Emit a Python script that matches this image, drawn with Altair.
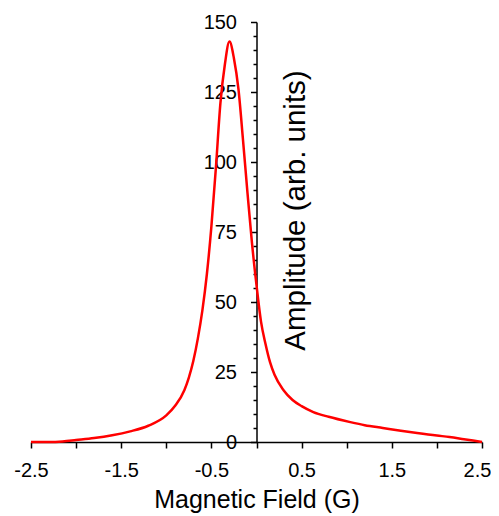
import altair as alt
import pandas as pd

field = [-2.5, -2.3, -2.15, -2.0, -1.8, -1.6, -1.4, -1.2, -1.0, -0.9, -0.8, -0.75,
         -0.7, -0.65, -0.6, -0.55, -0.5, -0.45, -0.4, -0.35, -0.3, -0.25, -0.2,
         -0.15, -0.1, -0.05, 0.0, 0.05, 0.1, 0.15, 0.2, 0.3, 0.4, 0.5, 0.63, 0.8,
         1.04, 1.2, 1.4, 1.6, 1.78, 2.0, 2.14, 2.3, 2.5]
amplitude = [0, 0, 0.2, 0.7, 1.4, 2.4, 3.8, 5.8, 9.5, 13, 18.5, 23,
             29, 37, 47, 60, 77, 98, 121, 135, 143, 137, 126,
             108, 89, 71, 56, 43, 35, 28.5, 24, 18.5, 15, 12.8, 10.7, 9,
             7.1, 6.0, 5, 4, 3.2, 2.3, 1.8, 1.0, 0]

x_ticks = [-2.5, -2.0, -1.5, -1.0, -0.5, 0.0, 0.5, 1.0, 1.5, 2.0, 2.5]
y_ticks = list(range(0, 151, 5))

df = pd.DataFrame({"field": field, "amp": amplitude})

FONT = "Liberation Sans"

x_axis = alt.Axis(
    values=x_ticks,
    labelExpr="abs(round(datum.value*2)) % 2 == 1 ? (datum.value < 0 ? '-' : '') + format(abs(datum.value), '.1f') : ''",
    labelOffset=alt.condition("datum.value > 2.4", alt.value(-5), alt.value(0)),
    tickSize=6, tickWidth=1.5, tickColor="black",
    domainColor="black", domainWidth=1.5,
    labelFont=FONT, labelFontSize=20, labelColor="black", labelPadding=12,
    labelFlush=False, labelOverlap=False,
    grid=False,
    title="Magnetic Field (G)", titleFont=FONT, titleFontSize=25,
    titleFontWeight="normal", titleColor="black",
    titleY=65, titleBaseline="alphabetic",
)

y_axis = alt.Axis(
    values=y_ticks,
    labelExpr="datum.value % 25 === 0 ? datum.label : ''",
    tickSize=alt.condition("datum.value % 25 === 0", alt.value(6), alt.value(3.5)),
    tickWidth=1.5, tickColor="black",
    domainColor="black", domainWidth=1.5,
    offset=-225.5,
    labelFont=FONT, labelFontSize=20, labelColor="black", labelPadding=14,
    labelOverlap=False, labelFlush=False,
    grid=False,
    title="Amplitude (arb. units)", titleFont=FONT, titleFontSize=29.5,
    titleFontWeight="normal", titleColor="black",
    titleAngle=270, titleX=47.5, titleY=188, titleAlign="center",
    titleBaseline="alphabetic",
)

chart = alt.Chart(df).mark_line(
    color="#ff0000", strokeWidth=2.5, interpolate="monotone"
).encode(
    x=alt.X("field:Q", scale=alt.Scale(domain=[-2.5, 2.5], nice=False), axis=x_axis),
    y=alt.Y("amp:Q", scale=alt.Scale(domain=[0, 150], nice=False), axis=y_axis),
).properties(
    width=451, height=420,
    autosize=alt.AutoSizeParams(type="none"),
    padding={"left": 23, "top": 14, "right": 9, "bottom": 74},
    background="white",
).configure_view(stroke=None)

chart.save("out.html", embed_options={"renderer": "svg", "actions": False})
